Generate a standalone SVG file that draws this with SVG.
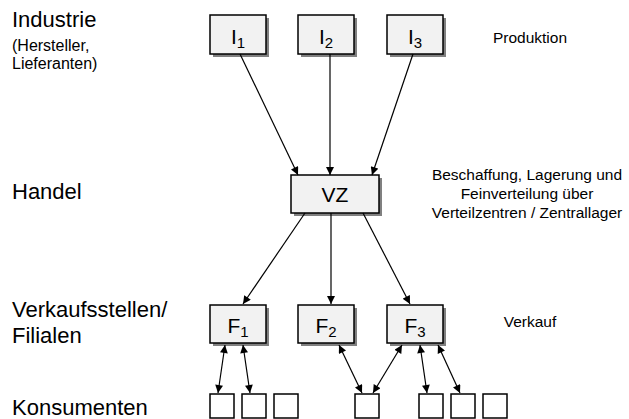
<svg xmlns="http://www.w3.org/2000/svg" width="629" height="419" viewBox="0 0 629 419">
  <style>
    text { font-family: "Liberation Sans", Arial, sans-serif; fill: #000; }
    .lvl { font-size: 22px; }
    .sub { font-size: 16px; }
    .note { font-size: 15.5px; }
    .box { fill: #f2f2f2; stroke: #000; stroke-width: 1.5; }
    .shadow { fill: #808080; }
    .lbl { font-size: 21px; }
    .idx { font-size: 15px; }
    .cons { fill: #fff; stroke: #000; stroke-width: 1.5; }
    .conn line { stroke: #000; stroke-width: 1.2; fill: none; }
  </style>
  <defs>
    <marker id="arrow" viewBox="0 0 10 10" refX="10" refY="5" markerWidth="10" markerHeight="8" markerUnits="userSpaceOnUse" orient="auto-start-reverse">
      <path d="M0,0 L10,5 L0,10 z" fill="#000"/>
    </marker>
  </defs>
  <rect width="629" height="419" fill="#fff"/>

  <!-- level labels on the left -->
  <g id="levels">
    <text class="lvl" x="12" y="27">Industrie</text>
    <text class="sub" x="12" y="51">(Hersteller,</text>
    <text class="sub" x="12" y="69">Lieferanten)</text>
    <text class="lvl" x="12" y="199">Handel</text>
    <text class="lvl" x="12" y="317">Verkaufsstellen/</text>
    <text class="lvl" x="12" y="343">Filialen</text>
    <text class="lvl" x="12" y="415">Konsumenten</text>
  </g>

  <!-- notes on the right -->
  <g id="notes">
    <text class="note" x="530" y="43" text-anchor="middle">Produktion</text>
    <text class="note" x="527" y="180" text-anchor="middle">Beschaffung, Lagerung und</text>
    <text class="note" x="527" y="199" text-anchor="middle">Feinverteilung über</text>
    <text class="note" x="527" y="218" text-anchor="middle">Verteilzentren / Zentrallager</text>
    <text class="note" x="530" y="327" text-anchor="middle">Verkauf</text>
  </g>

  <!-- industry nodes -->
  <g id="I1">
    <rect class="shadow" x="213" y="18" width="56" height="39"/>
    <rect class="box" x="210" y="15" width="56" height="39"/>
    <text x="238" y="44" text-anchor="middle"><tspan class="lbl">I</tspan><tspan class="idx" dy="4">1</tspan></text>
  </g>
  <g id="I2">
    <rect class="shadow" x="301" y="18" width="56" height="39"/>
    <rect class="box" x="298" y="15" width="56" height="39"/>
    <text x="326" y="44" text-anchor="middle"><tspan class="lbl">I</tspan><tspan class="idx" dy="4">2</tspan></text>
  </g>
  <g id="I3">
    <rect class="shadow" x="390" y="18" width="56" height="39"/>
    <rect class="box" x="387" y="15" width="56" height="39"/>
    <text x="415" y="44" text-anchor="middle"><tspan class="lbl">I</tspan><tspan class="idx" dy="4">3</tspan></text>
  </g>

  <!-- distribution centre -->
  <g id="VZ">
    <rect class="shadow" x="294" y="178" width="88" height="38"/>
    <rect class="box" x="291" y="175" width="88" height="38"/>
    <text class="lbl" x="335" y="202" text-anchor="middle">VZ</text>
  </g>

  <!-- branch nodes -->
  <g id="F1">
    <rect class="shadow" x="213" y="308" width="56" height="38"/>
    <rect class="box" x="210" y="305" width="56" height="38"/>
    <text x="238" y="333" text-anchor="middle"><tspan class="lbl">F</tspan><tspan class="idx" dy="4">1</tspan></text>
  </g>
  <g id="F2">
    <rect class="shadow" x="301" y="308" width="56" height="38"/>
    <rect class="box" x="298" y="305" width="56" height="38"/>
    <text x="326" y="333" text-anchor="middle"><tspan class="lbl">F</tspan><tspan class="idx" dy="4">2</tspan></text>
  </g>
  <g id="F3">
    <rect class="shadow" x="390" y="308" width="56" height="38"/>
    <rect class="box" x="387" y="305" width="56" height="38"/>
    <text x="415" y="333" text-anchor="middle"><tspan class="lbl">F</tspan><tspan class="idx" dy="4">3</tspan></text>
  </g>

  <!-- consumers -->
  <g id="consumers">
    <rect class="cons" x="210" y="394" width="24" height="24"/>
    <rect class="cons" x="242" y="394" width="24" height="24"/>
    <rect class="cons" x="274" y="394" width="24" height="24"/>
    <rect class="cons" x="355" y="394" width="24" height="24"/>
    <rect class="cons" x="419" y="394" width="24" height="24"/>
    <rect class="cons" x="451" y="394" width="24" height="24"/>
    <rect class="cons" x="483" y="394" width="24" height="24"/>
  </g>

  <!-- connectors -->
  <g id="connectors" class="conn">
    <line x1="240" y1="54" x2="298" y2="175" marker-end="url(#arrow)"/>
    <line x1="330" y1="54" x2="330" y2="175" marker-end="url(#arrow)"/>
    <line x1="413" y1="54" x2="372" y2="175" marker-end="url(#arrow)"/>
    <line x1="305" y1="213" x2="243" y2="304" marker-end="url(#arrow)"/>
    <line x1="331" y1="213" x2="331" y2="304" marker-end="url(#arrow)"/>
    <line x1="363" y1="213" x2="410" y2="304" marker-end="url(#arrow)"/>
    <line x1="225" y1="345" x2="218" y2="393" marker-start="url(#arrow)" marker-end="url(#arrow)"/>
    <line x1="243" y1="345" x2="250" y2="393" marker-start="url(#arrow)" marker-end="url(#arrow)"/>
    <line x1="339" y1="345" x2="362" y2="393" marker-start="url(#arrow)" marker-end="url(#arrow)"/>
    <line x1="402" y1="345" x2="373" y2="393" marker-start="url(#arrow)" marker-end="url(#arrow)"/>
    <line x1="420" y1="345" x2="427" y2="393" marker-start="url(#arrow)" marker-end="url(#arrow)"/>
    <line x1="438" y1="345" x2="460" y2="393" marker-start="url(#arrow)" marker-end="url(#arrow)"/>
  </g>
</svg>
